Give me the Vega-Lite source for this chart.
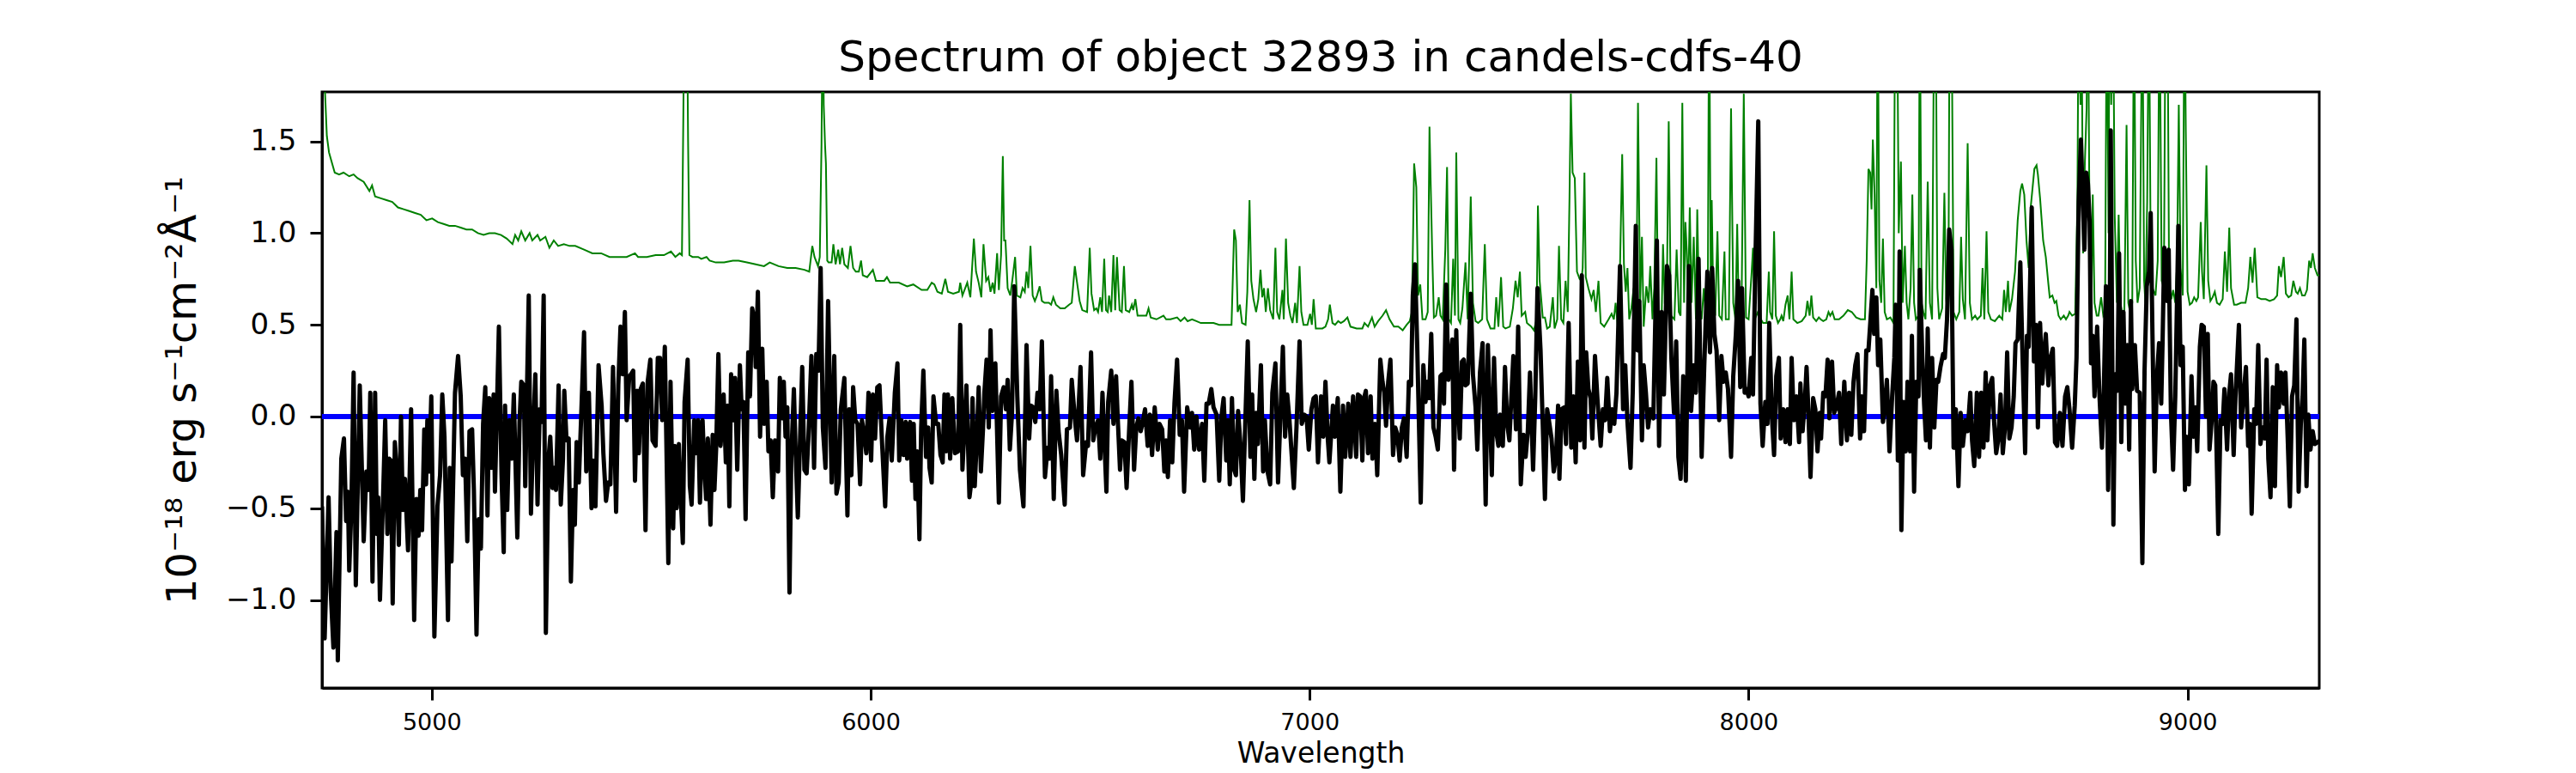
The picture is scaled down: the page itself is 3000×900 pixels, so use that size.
{
  "$schema": "https://vega.github.io/schema/vega-lite/v6.json",
  "width": 2326,
  "height": 694,
  "autosize": "none",
  "padding": {"left": 375, "top": 107, "right": 299, "bottom": 99},
  "background": "white",
  "config": {
    "font": "DejaVu Sans",
    "view": {"stroke": "black", "strokeWidth": 3},
    "axis": {
      "domainColor": "black", "domainWidth": 3,
      "tickColor": "black", "tickWidth": 3, "tickSize": 14,
      "labelColor": "black", "titleColor": "black",
      "labelFont": "DejaVu Sans", "titleFont": "DejaVu Sans",
      "titleFontWeight": "normal", "grid": false
    }
  },
  "title": {
    "text": "Spectrum of object 32893 in candels-cdfs-40",
    "fontSize": 50, "fontWeight": "normal", "color": "black",
    "font": "DejaVu Sans", "offset": 24, "dy": 50, "baseline": "alphabetic"
  },
  "datasets": {
    "flux": [
{"w":4750,"f":-0.49},{"w":4756,"f":-1.21},{"w":4765,"f":-0.44},{"w":4770,"f":-0.96},{"w":4776,"f":-1.26},{"w":4783,"f":-0.63},{"w":4786,"f":-1.33},{"w":4794,"f":-0.23},{"w":4800,"f":-0.12},{"w":4805,"f":-0.57},
{"w":4809,"f":-0.41},{"w":4812,"f":-0.84},{"w":4817,"f":-0.49},{"w":4822,"f":0.24},{"w":4827,"f":-0.92},{"w":4836,"f":0.17},{"w":4845,"f":-0.68},{"w":4851,"f":-0.30},{"w":4856,"f":-0.40},{"w":4860,"f":0.13},
{"w":4865,"f":-0.90},{"w":4871,"f":0.13},{"w":4875,"f":-0.64},{"w":4878,"f":-0.44},{"w":4882,"f":-1.00},{"w":4889,"f":-0.45},{"w":4894,"f":-0.02},{"w":4899,"f":-0.64},{"w":4903,"f":-0.23},{"w":4907,"f":-0.24},
{"w":4911,"f":-1.02},{"w":4916,"f":-0.14},{"w":4921,"f":-0.32},{"w":4925,"f":-0.70},{"w":4930,"f":0.0},{"w":4934,"f":-0.51},{"w":4939,"f":-0.34},{"w":4946,"f":-0.73},{"w":4953,"f":0.04},{"w":4960,"f":-1.11},
{"w":4965,"f":-0.45},{"w":4970,"f":-0.65},{"w":4974,"f":-0.40},{"w":4978,"f":-0.62},{"w":4983,"f":-0.07},{"w":4987,"f":-0.37},{"w":4990,"f":-0.02},{"w":4994,"f":-0.30},{"w":4999,"f":0.11},{"w":5006,"f":-1.20},
{"w":5013,"f":-0.49},{"w":5019,"f":-0.32},{"w":5024,"f":0.12},{"w":5029,"f":-0.11},{"w":5037,"f":-1.11},{"w":5041,"f":-0.28},{"w":5045,"f":-0.79},{"w":5053,"f":0.13},{"w":5060,"f":0.33},{"w":5066,"f":0.11},
{"w":5071,"f":-0.32},{"w":5076,"f":-0.23},{"w":5081,"f":-0.68},{"w":5086,"f":-0.08},{"w":5092,"f":-0.07},{"w":5096,"f":-0.40},{"w":5102,"f":-1.19},{"w":5107,"f":-0.56},{"w":5112,"f":-0.72},{"w":5117,"f":-0.04},
{"w":5122,"f":0.16},{"w":5127,"f":-0.54},{"w":5131,"f":0.10},{"w":5136,"f":-0.28},{"w":5141,"f":0.12},{"w":5144,"f":-0.41},{"w":5153,"f":0.49},{"w":5159,"f":-0.32},{"w":5164,"f":-0.74},{"w":5167,"f":0.06},
{"w":5172,"f":-0.51},{"w":5177,"f":-0.02},{"w":5182,"f":-0.23},{"w":5187,"f":0.12},{"w":5195,"f":-0.66},{"w":5200,"f":-0.03},{"w":5204,"f":0.19},{"w":5210,"f":0.17},{"w":5213,"f":-0.38},{"w":5221,"f":0.66},
{"w":5226,"f":-0.53},{"w":5231,"f":-0.10},{"w":5236,"f":0.23},{"w":5241,"f":-0.48},{"w":5246,"f":0.04},{"w":5250,"f":-0.03},{"w":5255,"f":0.66},{"w":5260,"f":-1.18},{"w":5266,"f":-0.23},{"w":5270,"f":-0.11},
{"w":5275,"f":-0.39},{"w":5279,"f":-0.28},{"w":5283,"f":-0.40},{"w":5289,"f":0.17},{"w":5294,"f":-0.48},{"w":5299,"f":-0.23},{"w":5302,"f":0.14},{"w":5307,"f":-0.13},{"w":5312,"f":-0.12},{"w":5317,"f":-0.90},
{"w":5322,"f":-0.40},{"w":5326,"f":-0.59},{"w":5330,"f":-0.14},{"w":5335,"f":-0.36},{"w":5340,"f":-0.03},{"w":5347,"f":0.46},{"w":5352,"f":-0.30},{"w":5358,"f":0.13},{"w":5364,"f":-0.50},{"w":5368,"f":-0.24},
{"w":5373,"f":-0.49},{"w":5380,"f":0.28},{"w":5387,"f":0.06},{"w":5391,"f":-0.20},{"w":5397,"f":-0.46},{"w":5402,"f":-0.36},{"w":5407,"f":-0.37},{"w":5413,"f":0.27},{"w":5420,"f":-0.52},{"w":5425,"f":0.17},
{"w":5430,"f":0.49},{"w":5435,"f":0.23},{"w":5440,"f":0.57},{"w":5444,"f":-0.02},{"w":5450,"f":0.22},{"w":5454,"f":0.23},{"w":5459,"f":0.25},{"w":5463,"f":-0.35},{"w":5468,"f":0.14},{"w":5472,"f":-0.20},
{"w":5476,"f":0.15},{"w":5481,"f":0.18},{"w":5487,"f":-0.62},{"w":5492,"f":0.19},{"w":5498,"f":0.31},{"w":5503,"f":-0.13},{"w":5510,"f":-0.16},{"w":5515,"f":0.32},{"w":5520,"f":0.32},{"w":5525,"f":-0.02},
{"w":5531,"f":0.38},{"w":5539,"f":-0.80},{"w":5544,"f":0.19},{"w":5550,"f":-0.61},{"w":5554,"f":-0.16},{"w":5558,"f":-0.50},{"w":5563,"f":-0.15},{"w":5567,"f":-0.42},{"w":5572,"f":-0.69},{"w":5576,"f":0.08},
{"w":5583,"f":0.31},{"w":5588,"f":-0.38},{"w":5592,"f":-0.48},{"w":5598,"f":-0.02},{"w":5602,"f":-0.20},{"w":5607,"f":-0.02},{"w":5611,"f":-0.47},{"w":5617,"f":-0.02},{"w":5620,"f":-0.22},{"w":5625,"f":-0.45},
{"w":5629,"f":-0.12},{"w":5635,"f":-0.59},{"w":5640,"f":-0.10},{"w":5644,"f":-0.40},{"w":5648,"f":-0.17},{"w":5653,"f":0.34},{"w":5658,"f":-0.16},{"w":5665,"f":0.12},{"w":5670,"f":-0.25},{"w":5674,"f":0.06},
{"w":5678,"f":-0.49},{"w":5682,"f":0.23},{"w":5687,"f":-0.02},{"w":5691,"f":0.21},{"w":5696,"f":-0.29},{"w":5702,"f":0.28},{"w":5706,"f":0.04},{"w":5710,"f":0.08},{"w":5715,"f":-0.56},{"w":5721,"f":0.35},
{"w":5725,"f":0.11},{"w":5730,"f":0.59},{"w":5735,"f":0.53},{"w":5738,"f":0.27},{"w":5743,"f":0.68},{"w":5748,"f":-0.11},{"w":5753,"f":0.37},{"w":5757,"f":-0.04},{"w":5763,"f":0.19},{"w":5767,"f":-0.19},
{"w":5772,"f":-0.13},{"w":5777,"f":-0.44},{"w":5782,"f":-0.13},{"w":5789,"f":-0.30},{"w":5793,"f":0.21},{"w":5798,"f":-0.01},{"w":5802,"f":0.19},{"w":5806,"f":-0.11},{"w":5810,"f":0.05},{"w":5815,"f":-0.96},
{"w":5819,"f":-0.23},{"w":5825,"f":0.15},{"w":5829,"f":-0.19},{"w":5834,"f":-0.55},{"w":5839,"f":-0.13},{"w":5844,"f":0.27},{"w":5849,"f":-0.29},{"w":5854,"f":-0.31},{"w":5858,"f":-0.12},{"w":5865,"f":0.33},
{"w":5871,"f":-0.28},{"w":5876,"f":0.34},{"w":5881,"f":0.25},{"w":5886,"f":0.81},{"w":5891,"f":-0.06},{"w":5897,"f":-0.28},{"w":5903,"f":0.63},{"w":5911,"f":-0.36},{"w":5917,"f":0.33},{"w":5922,"f":-0.42},
{"w":5927,"f":-0.36},{"w":5932,"f":0.04},{"w":5940,"f":0.21},{"w":5947,"f":-0.54},{"w":5951,"f":0.04},{"w":5956,"f":-0.32},{"w":5960,"f":0.16},{"w":5965,"f":-0.02},{"w":5970,"f":-0.04},{"w":5976,"f":-0.37},
{"w":5980,"f":-0.02},{"w":5986,"f":-0.11},{"w":5990,"f":-0.20},{"w":5995,"f":0.13},{"w":6001,"f":-0.24},{"w":6005,"f":0.12},{"w":6010,"f":-0.12},{"w":6015,"f":0.16},{"w":6020,"f":0.17},{"w":6026,"f":-0.15},
{"w":6033,"f":-0.49},{"w":6038,"f":-0.11},{"w":6043,"f":-0.01},{"w":6048,"f":-0.24},{"w":6055,"f":0.13},{"w":6061,"f":0.29},{"w":6065,"f":-0.24},{"w":6070,"f":-0.02},{"w":6075,"f":-0.21},{"w":6080,"f":-0.03},
{"w":6083,"f":-0.23},{"w":6090,"f":-0.03},{"w":6094,"f":-0.35},{"w":6098,"f":-0.04},{"w":6102,"f":-0.45},{"w":6106,"f":-0.19},{"w":6111,"f":-0.67},{"w":6115,"f":-0.06},{"w":6120,"f":0.25},{"w":6126,"f":-0.22},
{"w":6131,"f":-0.06},{"w":6134,"f":-0.28},{"w":6139,"f":-0.36},{"w":6143,"f":0.11},{"w":6149,"f":-0.04},{"w":6154,"f":-0.04},{"w":6159,"f":-0.21},{"w":6164,"f":-0.25},{"w":6168,"f":0.12},{"w":6172,"f":-0.19},
{"w":6176,"f":0.12},{"w":6181,"f":-0.23},{"w":6186,"f":0.10},{"w":6192,"f":-0.20},{"w":6199,"f":-0.19},{"w":6204,"f":0.50},{"w":6209,"f":-0.29},{"w":6214,"f":-0.04},{"w":6218,"f":0.17},{"w":6225,"f":-0.44},
{"w":6228,"f":-0.38},{"w":6232,"f":0.10},{"w":6237,"f":-0.38},{"w":6242,"f":-0.11},{"w":6246,"f":0.16},{"w":6251,"f":-0.30},{"w":6256,"f":-0.06},{"w":6259,"f":0.13},{"w":6264,"f":0.31},{"w":6269,"f":-0.06},
{"w":6273,"f":0.47},{"w":6277,"f":0.03},{"w":6284,"f":0.29},{"w":6292,"f":-0.47},{"w":6297,"f":0.11},{"w":6303,"f":0.16},{"w":6308,"f":0.04},{"w":6312,"f":0.20},{"w":6317,"f":-0.18},{"w":6322,"f":0.02},
{"w":6327,"f":0.71},{"w":6334,"f":0.11},{"w":6340,"f":-0.29},{"w":6348,"f":-0.49},{"w":6355,"f":0.39},{"w":6361,"f":-0.12},{"w":6365,"f":0.06},{"w":6370,"f":0.05},{"w":6375,"f":-0.03},{"w":6380,"f":0.13},
{"w":6385,"f":0.04},{"w":6390,"f":0.41},{"w":6397,"f":-0.33},{"w":6403,"f":-0.17},{"w":6407,"f":-0.23},{"w":6411,"f":0.22},{"w":6417,"f":-0.45},{"w":6423,"f":0.14},{"w":6428,"f":-0.08},{"w":6434,"f":-0.21},
{"w":6442,"f":-0.48},{"w":6447,"f":-0.07},{"w":6454,"f":-0.06},{"w":6458,"f":0.20},{"w":6465,"f":-0.01},{"w":6470,"f":-0.13},{"w":6478,"f":0.27},{"w":6484,"f":-0.32},{"w":6491,"f":-0.14},{"w":6495,"f":-0.16},
{"w":6502,"f":0.35},{"w":6507,"f":-0.13},{"w":6512,"f":-0.06},{"w":6518,"f":-0.02},{"w":6523,"f":-0.23},{"w":6528,"f":0.13},{"w":6537,"f":-0.41},{"w":6541,"f":0.08},{"w":6548,"f":0.25},{"w":6553,"f":-0.04},
{"w":6559,"f":0.22},{"w":6563,"f":-0.02},{"w":6568,"f":-0.29},{"w":6572,"f":-0.13},{"w":6578,"f":-0.14},{"w":6583,"f":-0.39},{"w":6589,"f":-0.06},{"w":6594,"f":0.19},{"w":6600,"f":-0.29},{"w":6605,"f":-0.06},
{"w":6610,"f":-0.01},{"w":6615,"f":-0.08},{"w":6619,"f":-0.04},{"w":6625,"f":0.04},{"w":6631,"f":-0.16},{"w":6636,"f":0.01},{"w":6641,"f":-0.21},{"w":6647,"f":0.05},{"w":6654,"f":-0.18},{"w":6658,"f":-0.04},
{"w":6664,"f":-0.07},{"w":6669,"f":-0.30},{"w":6673,"f":-0.13},{"w":6677,"f":-0.33},{"w":6682,"f":-0.02},{"w":6687,"f":-0.25},{"w":6692,"f":0.07},{"w":6698,"f":0.31},{"w":6704,"f":-0.10},{"w":6709,"f":-0.02},
{"w":6714,"f":-0.41},{"w":6721,"f":0.05},{"w":6728,"f":-0.06},{"w":6732,"f":0.02},{"w":6737,"f":-0.18},{"w":6742,"f":0.0},{"w":6748,"f":-0.18},{"w":6755,"f":-0.04},{"w":6760,"f":-0.35},{"w":6765,"f":0.07},
{"w":6770,"f":0.07},{"w":6776,"f":0.15},{"w":6781,"f":0.05},{"w":6788,"f":0.01},{"w":6794,"f":-0.35},{"w":6799,"f":0.0},{"w":6804,"f":0.10},{"w":6810,"f":-0.24},{"w":6814,"f":-0.02},{"w":6818,"f":-0.37},
{"w":6823,"f":0.10},{"w":6828,"f":-0.29},{"w":6832,"f":-0.32},{"w":6837,"f":0.03},{"w":6842,"f":-0.14},{"w":6848,"f":-0.46},{"w":6853,"f":-0.06},{"w":6859,"f":0.41},{"w":6865,"f":-0.22},{"w":6869,"f":0.12},
{"w":6874,"f":-0.34},{"w":6878,"f":0.02},{"w":6882,"f":-0.15},{"w":6889,"f":0.28},{"w":6894,"f":-0.30},{"w":6898,"f":-0.02},{"w":6904,"f":-0.30},{"w":6910,"f":-0.37},{"w":6915,"f":0.13},{"w":6922,"f":0.29},
{"w":6928,"f":-0.36},{"w":6933,"f":-0.02},{"w":6939,"f":0.38},{"w":6944,"f":-0.11},{"w":6949,"f":0.12},{"w":6954,"f":-0.02},{"w":6958,"f":-0.17},{"w":6964,"f":-0.39},{"w":6970,"f":-0.06},{"w":6977,"f":0.41},
{"w":6982,"f":-0.04},{"w":6988,"f":0.01},{"w":6993,"f":0.0},{"w":6998,"f":-0.18},{"w":7004,"f":0.04},{"w":7009,"f":0.10},{"w":7014,"f":0.11},{"w":7019,"f":-0.25},{"w":7026,"f":0.11},{"w":7031,"f":-0.11},
{"w":7036,"f":0.19},{"w":7041,"f":-0.11},{"w":7045,"f":-0.25},{"w":7053,"f":0.06},{"w":7057,"f":-0.11},{"w":7064,"f":0.10},{"w":7070,"f":-0.41},{"w":7076,"f":0.06},{"w":7081,"f":-0.22},{"w":7088,"f":0.07},
{"w":7093,"f":-0.22},{"w":7099,"f":0.11},{"w":7106,"f":-0.22},{"w":7110,"f":0.12},{"w":7115,"f":0.11},{"w":7120,"f":-0.24},{"w":7124,"f":0.10},{"w":7128,"f":0.14},{"w":7133,"f":-0.20},{"w":7139,"f":0.11},
{"w":7143,"f":-0.23},{"w":7149,"f":-0.04},{"w":7154,"f":-0.32},{"w":7161,"f":0.31},{"w":7166,"f":0.19},{"w":7170,"f":0.13},{"w":7174,"f":-0.05},{"w":7179,"f":0.19},{"w":7184,"f":0.31},{"w":7190,"f":-0.21},
{"w":7195,"f":-0.06},{"w":7200,"f":-0.10},{"w":7205,"f":-0.24},{"w":7210,"f":-0.06},{"w":7215,"f":-0.01},{"w":7221,"f":-0.22},{"w":7226,"f":0.19},{"w":7231,"f":0.17},{"w":7235,"f":0.66},{"w":7240,"f":0.83},
{"w":7245,"f":0.39},{"w":7253,"f":-0.47},{"w":7259,"f":0.28},{"w":7264,"f":0.08},{"w":7268,"f":0.19},{"w":7272,"f":0.10},{"w":7277,"f":0.45},{"w":7282,"f":-0.06},{"w":7287,"f":-0.11},{"w":7292,"f":-0.18},
{"w":7298,"f":0.22},{"w":7302,"f":0.23},{"w":7306,"f":0.07},{"w":7311,"f":0.72},{"w":7316,"f":0.20},{"w":7321,"f":0.32},{"w":7325,"f":0.42},{"w":7329,"f":-0.29},{"w":7334,"f":0.47},{"w":7338,"f":0.08},
{"w":7342,"f":-0.12},{"w":7347,"f":0.30},{"w":7351,"f":0.31},{"w":7355,"f":0.17},{"w":7360,"f":0.18},{"w":7367,"f":0.67},{"w":7372,"f":0.23},{"w":7378,"f":0.05},{"w":7382,"f":-0.18},{"w":7388,"f":0.24},
{"w":7394,"f":0.40},{"w":7401,"f":-0.48},{"w":7406,"f":0.39},{"w":7410,"f":0.07},{"w":7415,"f":-0.32},{"w":7420,"f":0.32},{"w":7425,"f":-0.08},{"w":7430,"f":-0.16},{"w":7434,"f":0.01},{"w":7440,"f":-0.16},
{"w":7445,"f":0.27},{"w":7450,"f":-0.04},{"w":7455,"f":-0.13},{"w":7459,"f":0.08},{"w":7464,"f":0.33},{"w":7470,"f":-0.07},{"w":7475,"f":0.49},{"w":7481,"f":-0.37},{"w":7487,"f":-0.10},{"w":7492,"f":-0.22},
{"w":7497,"f":-0.08},{"w":7502,"f":0.24},{"w":7509,"f":-0.29},{"w":7514,"f":0.11},{"w":7519,"f":0.70},{"w":7526,"f":0.36},{"w":7531,"f":-0.04},{"w":7536,"f":-0.45},{"w":7541,"f":0.04},{"w":7545,"f":-0.02},
{"w":7551,"f":-0.12},{"w":7556,"f":-0.30},{"w":7561,"f":-0.23},{"w":7566,"f":0.06},{"w":7569,"f":-0.34},{"w":7574,"f":0.04},{"w":7580,"f":0.05},{"w":7584,"f":-0.15},{"w":7590,"f":0.51},{"w":7596,"f":-0.17},
{"w":7601,"f":0.11},{"w":7606,"f":-0.25},{"w":7611,"f":0.30},{"w":7616,"f":-0.13},{"w":7620,"f":0.77},{"w":7626,"f":-0.17},{"w":7630,"f":0.35},{"w":7635,"f":0.15},{"w":7640,"f":0.10},{"w":7644,"f":-0.12},
{"w":7650,"f":0.33},{"w":7656,"f":0.08},{"w":7663,"f":-0.16},{"w":7668,"f":0.04},{"w":7673,"f":-0.02},{"w":7678,"f":0.21},{"w":7684,"f":-0.08},{"w":7689,"f":0.04},{"w":7694,"f":-0.04},{"w":7699,"f":0.13},
{"w":7707,"f":0.82},{"w":7714,"f":0.04},{"w":7719,"f":0.28},{"w":7724,"f":-0.03},{"w":7731,"f":-0.28},{"w":7736,"f":0.13},{"w":7743,"f":1.04},{"w":7747,"f":0.36},{"w":7751,"f":0.63},{"w":7757,"f":-0.13},
{"w":7761,"f":0.28},{"w":7766,"f":0.13},{"w":7771,"f":-0.06},{"w":7776,"f":0.04},{"w":7783,"f":-0.01},{"w":7791,"f":0.96},{"w":7796,"f":-0.16},{"w":7802,"f":0.57},{"w":7807,"f":0.12},{"w":7814,"f":0.82},
{"w":7819,"f":0.77},{"w":7824,"f":0.32},{"w":7830,"f":0.02},{"w":7835,"f":0.41},{"w":7840,"f":-0.22},{"w":7845,"f":-0.34},{"w":7851,"f":0.22},{"w":7857,"f":-0.35},{"w":7864,"f":0.82},{"w":7869,"f":0.03},
{"w":7875,"f":0.28},{"w":7880,"f":0.13},{"w":7886,"f":0.86},{"w":7893,"f":-0.22},{"w":7899,"f":0.28},{"w":7906,"f":0.79},{"w":7912,"f":0.35},{"w":7917,"f":0.81},{"w":7922,"f":0.45},{"w":7927,"f":0.36},
{"w":7933,"f":-0.02},{"w":7938,"f":0.33},{"w":7943,"f":0.19},{"w":7948,"f":0.24},{"w":7953,"f":0.15},{"w":7960,"f":-0.22},{"w":7965,"f":0.22},{"w":7971,"f":0.45},{"w":7976,"f":0.74},{"w":7981,"f":0.16},
{"w":7985,"f":0.70},{"w":7991,"f":0.13},{"w":7995,"f":0.15},{"w":8000,"f":0.11},{"w":8006,"f":0.32},{"w":8010,"f":0.12},{"w":8016,"f":0.91},{"w":8022,"f":1.61},{"w":8027,"f":0.07},{"w":8032,"f":-0.16},
{"w":8038,"f":0.08},{"w":8043,"f":-0.04},{"w":8047,"f":0.51},{"w":8053,"f":0.0},{"w":8058,"f":-0.21},{"w":8063,"f":0.22},{"w":8069,"f":0.32},{"w":8073,"f":-0.12},{"w":8079,"f":0.04},{"w":8084,"f":-0.14},
{"w":8089,"f":0.04},{"w":8094,"f":-0.15},{"w":8098,"f":0.32},{"w":8103,"f":-0.02},{"w":8109,"f":0.11},{"w":8115,"f":-0.14},{"w":8118,"f":0.18},{"w":8123,"f":-0.08},{"w":8128,"f":0.08},{"w":8132,"f":0.27},
{"w":8136,"f":0.04},{"w":8141,"f":-0.33},{"w":8147,"f":0.10},{"w":8152,"f":0.04},{"w":8157,"f":-0.19},{"w":8162,"f":0.02},{"w":8165,"f":-0.12},{"w":8170,"f":0.13},{"w":8175,"f":0.11},{"w":8180,"f":0.31},
{"w":8184,"f":-0.01},{"w":8190,"f":0.30},{"w":8195,"f":0.02},{"w":8200,"f":0.05},{"w":8206,"f":0.13},{"w":8211,"f":-0.15},{"w":8218,"f":0.19},{"w":8224,"f":-0.13},{"w":8229,"f":0.13},{"w":8234,"f":-0.10},
{"w":8239,"f":0.19},{"w":8243,"f":0.28},{"w":8248,"f":0.34},{"w":8254,"f":-0.12},{"w":8258,"f":0.11},{"w":8263,"f":-0.08},{"w":8268,"f":0.36},{"w":8273,"f":0.36},{"w":8278,"f":0.54},{"w":8282,"f":0.69},
{"w":8286,"f":0.45},{"w":8291,"f":0.65},{"w":8295,"f":0.28},{"w":8300,"f":0.42},{"w":8306,"f":-0.03},{"w":8310,"f":0.05},{"w":8315,"f":0.20},{"w":8321,"f":-0.19},{"w":8327,"f":0.11},{"w":8332,"f":0.32},
{"w":8335,"f":0.61},{"w":8340,"f":-0.24},{"w":8344,"f":0.90},{"w":8348,"f":-0.62},{"w":8353,"f":0.08},{"w":8358,"f":-0.19},{"w":8362,"f":0.19},{"w":8368,"f":-0.19},{"w":8372,"f":0.44},{"w":8377,"f":-0.41},
{"w":8382,"f":0.19},{"w":8387,"f":0.11},{"w":8390,"f":0.80},{"w":8396,"f":0.30},{"w":8400,"f":0.06},{"w":8404,"f":-0.13},{"w":8408,"f":0.48},{"w":8413,"f":-0.17},{"w":8418,"f":0.32},{"w":8423,"f":-0.06},
{"w":8428,"f":0.20},{"w":8432,"f":0.19},{"w":8437,"f":0.27},{"w":8443,"f":0.34},{"w":8447,"f":0.32},{"w":8452,"f":0.53},{"w":8457,"f":1.02},{"w":8462,"f":0.91},{"w":8467,"f":-0.17},{"w":8472,"f":0.04},
{"w":8478,"f":-0.38},{"w":8483,"f":0.02},{"w":8488,"f":-0.16},{"w":8494,"f":-0.02},{"w":8499,"f":-0.08},{"w":8505,"f":0.13},{"w":8509,"f":-0.13},{"w":8514,"f":-0.27},{"w":8520,"f":0.13},{"w":8525,"f":-0.22},
{"w":8530,"f":0.13},{"w":8535,"f":-0.17},{"w":8540,"f":0.24},{"w":8544,"f":-0.13},{"w":8550,"f":0.17},{"w":8555,"f":0.21},{"w":8559,"f":-0.02},{"w":8564,"f":-0.20},{"w":8569,"f":-0.12},{"w":8574,"f":0.12},
{"w":8579,"f":-0.20},{"w":8584,"f":-0.06},{"w":8589,"f":0.35},{"w":8594,"f":-0.12},{"w":8599,"f":-0.06},{"w":8604,"f":0.11},{"w":8608,"f":0.40},{"w":8613,"f":0.42},{"w":8619,"f":0.84},{"w":8623,"f":0.42},
{"w":8630,"f":-0.20},{"w":8634,"f":0.44},{"w":8638,"f":0.38},{"w":8645,"f":1.14},{"w":8650,"f":0.30},{"w":8655,"f":0.50},{"w":8659,"f":-0.06},{"w":8664,"f":0.51},{"w":8669,"f":0.18},{"w":8673,"f":0.34},
{"w":8677,"f":0.45},{"w":8683,"f":0.17},{"w":8687,"f":0.31},{"w":8693,"f":0.37},{"w":8698,"f":-0.14},{"w":8703,"f":-0.16},{"w":8709,"f":0.02},{"w":8715,"f":-0.16},{"w":8721,"f":0.11},{"w":8726,"f":0.16},
{"w":8731,"f":0.04},{"w":8737,"f":-0.17},{"w":8743,"f":0.06},{"w":8747,"f":0.32},{"w":8752,"f":1.17},{"w":8757,"f":1.51},{"w":8761,"f":1.21},{"w":8765,"f":0.91},{"w":8769,"f":1.33},{"w":8773,"f":1.27},
{"w":8777,"f":1.06},{"w":8780,"f":0.29},{"w":8784,"f":0.44},{"w":8788,"f":0.11},{"w":8794,"f":0.49},{"w":8799,"f":0.13},{"w":8805,"f":-0.17},{"w":8809,"f":0.11},{"w":8814,"f":0.71},{"w":8819,"f":-0.40},
{"w":8822,"f":0.15},{"w":8825,"f":1.56},{"w":8831,"f":-0.59},{"w":8835,"f":0.23},{"w":8840,"f":0.14},{"w":8844,"f":0.89},{"w":8849,"f":-0.14},{"w":8854,"f":0.57},{"w":8858,"f":0.07},{"w":8863,"f":0.39},
{"w":8867,"f":-0.18},{"w":8871,"f":0.63},{"w":8874,"f":0.15},{"w":8880,"f":0.39},{"w":8885,"f":0.14},{"w":8891,"f":0.13},{"w":8897,"f":-0.80},{"w":8902,"f":0.25},{"w":8907,"f":0.71},{"w":8912,"f":0.79},
{"w":8916,"f":1.11},{"w":8920,"f":0.45},{"w":8925,"f":-0.30},{"w":8930,"f":0.21},{"w":8935,"f":0.40},{"w":8940,"f":0.07},{"w":8943,"f":0.40},{"w":8947,"f":0.92},{"w":8953,"f":0.63},{"w":8957,"f":0.91},
{"w":8962,"f":0.03},{"w":8967,"f":-0.29},{"w":8972,"f":0.11},{"w":8979,"f":1.04},{"w":8984,"f":0.28},{"w":8989,"f":0.38},{"w":8994,"f":-0.40},{"w":8998,"f":-0.11},{"w":9003,"f":-0.37},{"w":9009,"f":0.22},
{"w":9013,"f":-0.11},{"w":9018,"f":0.05},{"w":9022,"f":-0.19},{"w":9028,"f":0.38},{"w":9032,"f":0.50},{"w":9037,"f":0.49},{"w":9042,"f":0.0},{"w":9046,"f":0.45},{"w":9050,"f":-0.18},{"w":9055,"f":-0.02},
{"w":9059,"f":0.19},{"w":9063,"f":0.17},{"w":9070,"f":-0.64},{"w":9075,"f":-0.02},{"w":9080,"f":-0.04},{"w":9084,"f":0.15},{"w":9090,"f":-0.18},{"w":9095,"f":0.13},{"w":9099,"f":0.23},{"w":9105,"f":-0.21},
{"w":9109,"f":0.10},{"w":9117,"f":0.50},{"w":9122,"f":-0.06},{"w":9127,"f":0.10},{"w":9133,"f":0.27},{"w":9138,"f":-0.16},{"w":9142,"f":-0.04},{"w":9146,"f":-0.53},{"w":9152,"f":0.04},{"w":9156,"f":-0.04},
{"w":9161,"f":0.39},{"w":9166,"f":-0.15},{"w":9171,"f":-0.06},{"w":9176,"f":-0.12},{"w":9180,"f":0.31},{"w":9184,"f":-0.23},{"w":9189,"f":-0.44},{"w":9194,"f":0.16},{"w":9199,"f":-0.38},{"w":9204,"f":0.28},
{"w":9208,"f":0.05},{"w":9213,"f":0.24},{"w":9219,"f":0.07},{"w":9223,"f":0.24},{"w":9228,"f":-0.11},{"w":9233,"f":-0.49},{"w":9238,"f":0.11},{"w":9243,"f":0.17},{"w":9248,"f":0.53},{"w":9253,"f":-0.41},
{"w":9258,"f":-0.04},{"w":9262,"f":0.11},{"w":9266,"f":0.42},{"w":9271,"f":-0.38},{"w":9275,"f":0.01},{"w":9280,"f":-0.18},{"w":9285,"f":-0.08},{"w":9290,"f":-0.15},{"w":9296,"f":-0.14},{"w":9302,"f":-0.13}
    ],
    "model": [
{"w":4750,"f":2.4},{"w":4753,"f":2.0},{"w":4757,"f":1.76},{"w":4761,"f":1.53},{"w":4766,"f":1.44},{"w":4773,"f":1.38},{"w":4779,"f":1.33},{"w":4789,"f":1.32},{"w":4799,"f":1.33},{"w":4812,"f":1.31},
{"w":4822,"f":1.32},{"w":4831,"f":1.30},{"w":4845,"f":1.28},{"w":4858,"f":1.23},{"w":4864,"f":1.26},{"w":4871,"f":1.20},{"w":4884,"f":1.19},{"w":4897,"f":1.18},{"w":4910,"f":1.17},{"w":4923,"f":1.14},
{"w":4936,"f":1.13},{"w":4949,"f":1.12},{"w":4962,"f":1.11},{"w":4975,"f":1.10},{"w":4988,"f":1.07},{"w":5001,"f":1.08},{"w":5014,"f":1.06},{"w":5027,"f":1.05},{"w":5040,"f":1.04},{"w":5053,"f":1.04},
{"w":5066,"f":1.03},{"w":5079,"f":1.02},{"w":5092,"f":1.02},{"w":5105,"f":1.00},{"w":5118,"f":0.99},{"w":5131,"f":1.00},{"w":5144,"f":1.00},{"w":5158,"f":0.99},{"w":5171,"f":0.97},{"w":5184,"f":0.94},
{"w":5190,"f":0.99},{"w":5197,"f":0.96},{"w":5204,"f":1.01},{"w":5213,"f":0.96},{"w":5223,"f":1.00},{"w":5229,"f":0.96},{"w":5241,"f":0.99},{"w":5247,"f":0.96},{"w":5259,"f":0.98},{"w":5268,"f":0.92},
{"w":5278,"f":0.96},{"w":5288,"f":0.93},{"w":5301,"f":0.94},{"w":5314,"f":0.93},{"w":5327,"f":0.93},{"w":5347,"f":0.91},{"w":5366,"f":0.89},{"w":5386,"f":0.89},{"w":5405,"f":0.87},{"w":5425,"f":0.87},
{"w":5444,"f":0.87},{"w":5463,"f":0.89},{"w":5470,"f":0.87},{"w":5490,"f":0.87},{"w":5510,"f":0.88},{"w":5529,"f":0.88},{"w":5545,"f":0.90},{"w":5555,"f":0.87},{"w":5565,"f":0.89},{"w":5570,"f":0.88},
{"w":5573,"f":1.6},{"w":5576,"f":2.4},{"w":5581,"f":2.4},{"w":5584,"f":1.5},{"w":5587,"f":0.88},{"w":5594,"f":0.87},{"w":5607,"f":0.87},{"w":5614,"f":0.86},{"w":5626,"f":0.87},{"w":5633,"f":0.85},
{"w":5647,"f":0.84},{"w":5666,"f":0.84},{"w":5686,"f":0.85},{"w":5699,"f":0.85},{"w":5718,"f":0.84},{"w":5738,"f":0.83},{"w":5757,"f":0.82},{"w":5770,"f":0.84},{"w":5790,"f":0.82},{"w":5810,"f":0.81},
{"w":5829,"f":0.81},{"w":5849,"f":0.80},{"w":5860,"f":0.79},{"w":5867,"f":0.93},{"w":5872,"f":0.87},{"w":5880,"f":0.82},{"w":5884,"f":0.87},{"w":5888,"f":1.49},{"w":5891,"f":2.4},{"w":5893,"f":1.70},
{"w":5896,"f":1.48},{"w":5898,"f":1.38},{"w":5901,"f":0.85},{"w":5904,"f":0.84},{"w":5911,"f":0.84},{"w":5915,"f":0.94},{"w":5920,"f":0.83},{"w":5926,"f":0.91},{"w":5930,"f":0.83},{"w":5935,"f":0.92},
{"w":5940,"f":0.83},{"w":5948,"f":0.81},{"w":5954,"f":0.93},{"w":5960,"f":0.81},{"w":5966,"f":0.79},{"w":5973,"f":0.79},{"w":5978,"f":0.85},{"w":5982,"f":0.77},{"w":5992,"f":0.76},{"w":6005,"f":0.80},
{"w":6012,"f":0.74},{"w":6031,"f":0.74},{"w":6037,"f":0.76},{"w":6044,"f":0.73},{"w":6064,"f":0.73},{"w":6083,"f":0.71},{"w":6097,"f":0.72},{"w":6116,"f":0.69},{"w":6129,"f":0.69},{"w":6139,"f":0.73},
{"w":6145,"f":0.72},{"w":6152,"f":0.68},{"w":6162,"f":0.67},{"w":6170,"f":0.75},{"w":6176,"f":0.68},{"w":6188,"f":0.67},{"w":6201,"f":0.68},{"w":6204,"f":0.73},{"w":6209,"f":0.66},{"w":6220,"f":0.73},
{"w":6227,"f":0.65},{"w":6235,"f":0.97},{"w":6240,"f":0.79},{"w":6246,"f":0.73},{"w":6252,"f":0.65},{"w":6257,"f":0.94},{"w":6263,"f":0.74},{"w":6268,"f":0.76},{"w":6273,"f":0.68},{"w":6278,"f":0.73},
{"w":6282,"f":0.67},{"w":6288,"f":0.89},{"w":6292,"f":0.69},{"w":6297,"f":0.88},{"w":6301,"f":1.42},{"w":6304,"f":0.96},{"w":6307,"f":0.96},{"w":6312,"f":0.70},{"w":6318,"f":0.66},{"w":6323,"f":0.75},
{"w":6329,"f":0.87},{"w":6333,"f":0.66},{"w":6341,"f":0.65},{"w":6346,"f":0.70},{"w":6351,"f":0.68},{"w":6355,"f":0.79},{"w":6359,"f":0.70},{"w":6364,"f":0.93},{"w":6369,"f":0.66},{"w":6374,"f":0.63},
{"w":6379,"f":0.66},{"w":6385,"f":0.71},{"w":6390,"f":0.63},{"w":6396,"f":0.62},{"w":6406,"f":0.62},{"w":6411,"f":0.61},{"w":6416,"f":0.65},{"w":6422,"f":0.61},{"w":6432,"f":0.59},{"w":6442,"f":0.59},
{"w":6452,"f":0.61},{"w":6458,"f":0.62},{"w":6465,"f":0.82},{"w":6469,"f":0.75},{"w":6476,"f":0.63},{"w":6482,"f":0.58},{"w":6493,"f":0.57},{"w":6499,"f":0.92},{"w":6503,"f":0.67},{"w":6509,"f":0.58},
{"w":6514,"f":0.59},{"w":6518,"f":0.57},{"w":6523,"f":0.65},{"w":6527,"f":0.57},{"w":6532,"f":0.86},{"w":6536,"f":0.58},{"w":6540,"f":0.57},{"w":6543,"f":0.66},{"w":6548,"f":0.57},{"w":6553,"f":0.88},
{"w":6557,"f":0.58},{"w":6561,"f":0.87},{"w":6567,"f":0.58},{"w":6572,"f":0.57},{"w":6577,"f":0.82},{"w":6581,"f":0.58},{"w":6589,"f":0.57},{"w":6595,"f":0.61},{"w":6598,"f":0.58},{"w":6603,"f":0.64},
{"w":6608,"f":0.55},{"w":6618,"f":0.55},{"w":6628,"f":0.55},{"w":6633,"f":0.59},{"w":6638,"f":0.54},{"w":6651,"f":0.53},{"w":6667,"f":0.55},{"w":6673,"f":0.53},{"w":6683,"f":0.53},{"w":6698,"f":0.54},
{"w":6706,"f":0.52},{"w":6715,"f":0.54},{"w":6722,"f":0.52},{"w":6732,"f":0.53},{"w":6742,"f":0.52},{"w":6752,"f":0.51},{"w":6768,"f":0.51},{"w":6781,"f":0.51},{"w":6794,"f":0.50},{"w":6807,"f":0.50},
{"w":6822,"f":0.50},{"w":6828,"f":1.02},{"w":6832,"f":0.96},{"w":6836,"f":0.57},{"w":6841,"f":0.61},{"w":6846,"f":0.51},{"w":6854,"f":0.50},{"w":6858,"f":0.68},{"w":6863,"f":1.18},{"w":6867,"f":0.74},
{"w":6872,"f":0.64},{"w":6878,"f":0.57},{"w":6883,"f":0.64},{"w":6888,"f":0.80},{"w":6892,"f":0.65},{"w":6896,"f":0.70},{"w":6900,"f":0.57},{"w":6905,"f":0.70},{"w":6910,"f":0.58},{"w":6917,"f":0.53},
{"w":6922,"f":0.92},{"w":6926,"f":0.57},{"w":6931,"f":0.53},{"w":6938,"f":0.69},{"w":6941,"f":0.53},{"w":6946,"f":0.97},{"w":6951,"f":0.62},{"w":6956,"f":0.55},{"w":6961,"f":0.51},{"w":6967,"f":0.62},
{"w":6971,"f":0.51},{"w":6977,"f":0.82},{"w":6981,"f":0.57},{"w":6986,"f":0.50},{"w":6995,"f":0.50},{"w":7001,"f":0.56},{"w":7005,"f":0.50},{"w":7009,"f":0.64},{"w":7014,"f":0.48},{"w":7022,"f":0.48},
{"w":7029,"f":0.48},{"w":7036,"f":0.49},{"w":7042,"f":0.53},{"w":7046,"f":0.61},{"w":7052,"f":0.51},{"w":7058,"f":0.50},{"w":7065,"f":0.52},{"w":7071,"f":0.51},{"w":7078,"f":0.52},{"w":7086,"f":0.54},
{"w":7093,"f":0.49},{"w":7107,"f":0.48},{"w":7120,"f":0.48},{"w":7125,"f":0.51},{"w":7133,"f":0.49},{"w":7142,"f":0.54},{"w":7148,"f":0.49},{"w":7156,"f":0.52},{"w":7166,"f":0.55},{"w":7174,"f":0.58},
{"w":7182,"f":0.53},{"w":7192,"f":0.49},{"w":7202,"f":0.49},{"w":7212,"f":0.47},{"w":7221,"f":0.50},{"w":7228,"f":0.52},{"w":7233,"f":0.57},{"w":7238,"f":1.38},{"w":7243,"f":1.25},{"w":7247,"f":0.66},
{"w":7252,"f":0.72},{"w":7257,"f":0.53},{"w":7264,"f":0.53},{"w":7269,"f":0.57},{"w":7273,"f":1.58},{"w":7279,"f":0.91},{"w":7283,"f":0.54},{"w":7288,"f":0.55},{"w":7294,"f":0.65},{"w":7298,"f":0.55},
{"w":7303,"f":0.53},{"w":7309,"f":0.91},{"w":7313,"f":1.36},{"w":7317,"f":0.53},{"w":7322,"f":0.51},{"w":7327,"f":0.86},{"w":7331,"f":0.55},{"w":7334,"f":1.44},{"w":7339,"f":0.53},{"w":7343,"f":0.51},
{"w":7348,"f":0.59},{"w":7355,"f":0.84},{"w":7360,"f":0.53},{"w":7367,"f":1.20},{"w":7372,"f":0.62},{"w":7378,"f":0.52},{"w":7384,"f":0.51},{"w":7393,"f":0.53},{"w":7399,"f":0.94},{"w":7404,"f":0.53},
{"w":7412,"f":0.48},{"w":7421,"f":0.48},{"w":7425,"f":0.65},{"w":7430,"f":0.49},{"w":7436,"f":0.76},{"w":7441,"f":0.49},{"w":7446,"f":0.48},{"w":7456,"f":0.49},{"w":7463,"f":0.59},{"w":7469,"f":0.74},
{"w":7474,"f":0.65},{"w":7479,"f":0.79},{"w":7483,"f":0.55},{"w":7491,"f":0.57},{"w":7495,"f":0.51},{"w":7505,"f":0.49},{"w":7511,"f":0.47},{"w":7517,"f":0.53},{"w":7520,"f":1.15},{"w":7524,"f":0.74},
{"w":7531,"f":0.54},{"w":7536,"f":0.54},{"w":7541,"f":0.48},{"w":7547,"f":0.49},{"w":7554,"f":0.65},{"w":7558,"f":0.48},{"w":7564,"f":0.53},{"w":7568,"f":0.93},{"w":7573,"f":0.53},{"w":7578,"f":0.51},
{"w":7583,"f":0.74},{"w":7588,"f":0.57},{"w":7592,"f":1.2},{"w":7595,"f":1.76},{"w":7599,"f":1.33},{"w":7604,"f":1.30},{"w":7609,"f":0.79},{"w":7615,"f":0.75},{"w":7619,"f":0.74},{"w":7622,"f":0.81},
{"w":7626,"f":1.33},{"w":7629,"f":0.76},{"w":7635,"f":0.70},{"w":7642,"f":0.64},{"w":7647,"f":0.69},{"w":7652,"f":0.57},{"w":7658,"f":0.74},{"w":7663,"f":0.51},{"w":7671,"f":0.49},{"w":7681,"f":0.53},
{"w":7688,"f":0.56},{"w":7693,"f":0.53},{"w":7697,"f":0.62},{"w":7702,"f":0.49},{"w":7707,"f":0.81},{"w":7712,"f":1.43},{"w":7716,"f":0.83},{"w":7720,"f":0.68},{"w":7724,"f":0.81},{"w":7728,"f":0.53},
{"w":7733,"f":0.59},{"w":7738,"f":0.70},{"w":7744,"f":0.51},{"w":7748,"f":1.71},{"w":7753,"f":0.62},{"w":7757,"f":0.98},{"w":7761,"f":0.49},{"w":7767,"f":0.71},{"w":7772,"f":0.62},{"w":7776,"f":0.82},
{"w":7781,"f":0.53},{"w":7785,"f":0.70},{"w":7790,"f":1.41},{"w":7794,"f":0.53},{"w":7802,"f":0.55},{"w":7805,"f":0.94},{"w":7809,"f":0.62},{"w":7813,"f":0.53},{"w":7818,"f":1.61},{"w":7823,"f":0.55},
{"w":7831,"f":0.53},{"w":7836,"f":0.91},{"w":7841,"f":0.57},{"w":7845,"f":0.55},{"w":7849,"f":1.71},{"w":7853,"f":0.62},{"w":7856,"f":1.06},{"w":7859,"f":0.91},{"w":7862,"f":0.64},{"w":7866,"f":1.14},
{"w":7870,"f":0.62},{"w":7875,"f":0.98},{"w":7880,"f":0.53},{"w":7883,"f":1.13},{"w":7887,"f":0.62},{"w":7893,"f":0.53},{"w":7898,"f":0.70},{"w":7903,"f":0.53},{"w":7907,"f":0.62},{"w":7910,"f":2.4},
{"w":7914,"f":0.62},{"w":7916,"f":1.18},{"w":7920,"f":0.57},{"w":7924,"f":0.55},{"w":7929,"f":1.01},{"w":7933,"f":0.55},{"w":7939,"f":0.53},{"w":7945,"f":0.90},{"w":7948,"f":0.53},{"w":7955,"f":0.53},
{"w":7960,"f":1.68},{"w":7965,"f":0.62},{"w":7970,"f":0.53},{"w":7974,"f":1.05},{"w":7978,"f":0.53},{"w":7984,"f":0.62},{"w":7989,"f":1.76},{"w":7994,"f":0.54},{"w":8000,"f":0.53},{"w":8007,"f":0.79},
{"w":8010,"f":0.92},{"w":8014,"f":0.53},{"w":8021,"f":0.57},{"w":8028,"f":0.53},{"w":8033,"f":0.51},{"w":8041,"f":0.51},{"w":8046,"f":0.79},{"w":8049,"f":0.57},{"w":8054,"f":0.53},{"w":8058,"f":1.01},
{"w":8062,"f":0.55},{"w":8067,"f":0.51},{"w":8072,"f":0.53},{"w":8075,"f":0.55},{"w":8079,"f":0.52},{"w":8084,"f":0.61},{"w":8089,"f":0.66},{"w":8093,"f":0.53},{"w":8098,"f":0.79},{"w":8102,"f":0.53},
{"w":8111,"f":0.51},{"w":8121,"f":0.52},{"w":8130,"f":0.55},{"w":8134,"f":0.63},{"w":8139,"f":0.55},{"w":8143,"f":0.66},{"w":8147,"f":0.54},{"w":8154,"f":0.52},{"w":8160,"f":0.54},{"w":8164,"f":0.53},
{"w":8170,"f":0.52},{"w":8177,"f":0.53},{"w":8182,"f":0.57},{"w":8186,"f":0.55},{"w":8191,"f":0.57},{"w":8196,"f":0.53},{"w":8206,"f":0.53},{"w":8216,"f":0.55},{"w":8226,"f":0.58},{"w":8235,"f":0.57},
{"w":8245,"f":0.54},{"w":8255,"f":0.53},{"w":8265,"f":0.53},{"w":8269,"f":0.85},{"w":8273,"f":1.35},{"w":8277,"f":1.33},{"w":8280,"f":1.13},{"w":8283,"f":1.51},{"w":8287,"f":1.21},{"w":8291,"f":0.70},
{"w":8294,"f":2.4},{"w":8298,"f":0.74},{"w":8302,"f":0.62},{"w":8306,"f":0.97},{"w":8310,"f":0.57},{"w":8315,"f":0.53},{"w":8323,"f":0.54},{"w":8330,"f":0.51},{"w":8334,"f":2.4},{"w":8338,"f":2.4},
{"w":8342,"f":1.00},{"w":8347,"f":1.39},{"w":8351,"f":0.62},{"w":8356,"f":0.93},{"w":8360,"f":0.62},{"w":8364,"f":0.53},{"w":8369,"f":0.70},{"w":8373,"f":1.21},{"w":8377,"f":0.62},{"w":8381,"f":0.53},
{"w":8387,"f":0.55},{"w":8390,"f":2.4},{"w":8394,"f":0.62},{"w":8398,"f":0.57},{"w":8403,"f":0.53},{"w":8408,"f":1.28},{"w":8413,"f":0.62},{"w":8418,"f":0.53},{"w":8423,"f":2.4},{"w":8426,"f":2.4},
{"w":8430,"f":0.70},{"w":8434,"f":0.53},{"w":8441,"f":0.59},{"w":8446,"f":1.22},{"w":8450,"f":0.64},{"w":8455,"f":0.53},{"w":8458,"f":2.4},{"w":8462,"f":2.4},{"w":8467,"f":0.57},{"w":8473,"f":0.53},
{"w":8480,"f":0.57},{"w":8484,"f":0.98},{"w":8488,"f":0.64},{"w":8493,"f":0.53},{"w":8499,"f":1.49},{"w":8504,"f":0.62},{"w":8509,"f":0.53},{"w":8516,"f":0.55},{"w":8521,"f":0.53},{"w":8529,"f":0.55},
{"w":8533,"f":0.81},{"w":8537,"f":0.53},{"w":8542,"f":1.01},{"w":8546,"f":0.57},{"w":8552,"f":0.53},{"w":8561,"f":0.52},{"w":8571,"f":0.55},{"w":8578,"f":0.53},{"w":8582,"f":0.69},{"w":8586,"f":0.57},
{"w":8591,"f":0.74},{"w":8594,"f":0.57},{"w":8600,"f":0.64},{"w":8607,"f":0.79},{"w":8613,"f":1.07},{"w":8619,"f":1.23},{"w":8623,"f":1.27},{"w":8628,"f":1.21},{"w":8633,"f":0.96},{"w":8638,"f":0.81},
{"w":8643,"f":1.15},{"w":8647,"f":1.25},{"w":8651,"f":1.35},{"w":8656,"f":1.37},{"w":8659,"f":1.32},{"w":8664,"f":1.19},{"w":8671,"f":0.96},{"w":8677,"f":0.87},{"w":8683,"f":0.72},{"w":8686,"f":0.65},
{"w":8692,"f":0.66},{"w":8697,"f":0.62},{"w":8701,"f":0.63},{"w":8706,"f":0.55},{"w":8711,"f":0.53},{"w":8718,"f":0.55},{"w":8723,"f":0.53},{"w":8728,"f":0.55},{"w":8731,"f":0.57},{"w":8737,"f":0.55},
{"w":8744,"f":0.56},{"w":8749,"f":1.17},{"w":8752,"f":2.4},{"w":8756,"f":1.70},{"w":8758,"f":2.4},{"w":8762,"f":0.89},{"w":8766,"f":1.38},{"w":8770,"f":1.68},{"w":8773,"f":2.4},{"w":8777,"f":0.91},
{"w":8781,"f":0.62},{"w":8784,"f":1.21},{"w":8788,"f":0.62},{"w":8793,"f":0.55},{"w":8797,"f":0.55},{"w":8803,"f":0.65},{"w":8808,"f":0.55},{"w":8812,"f":0.57},{"w":8816,"f":2.4},{"w":8820,"f":1.00},
{"w":8822,"f":2.4},{"w":8826,"f":1.70},{"w":8830,"f":2.4},{"w":8834,"f":1.10},{"w":8839,"f":0.62},{"w":8843,"f":1.10},{"w":8847,"f":0.62},{"w":8852,"f":0.55},{"w":8856,"f":0.57},{"w":8861,"f":1.59},
{"w":8865,"f":0.62},{"w":8869,"f":0.57},{"w":8874,"f":0.62},{"w":8878,"f":2.4},{"w":8882,"f":0.85},{"w":8886,"f":0.62},{"w":8891,"f":0.70},{"w":8897,"f":2.4},{"w":8901,"f":0.74},{"w":8904,"f":0.62},
{"w":8908,"f":1.17},{"w":8912,"f":2.4},{"w":8916,"f":0.85},{"w":8920,"f":0.70},{"w":8927,"f":0.66},{"w":8932,"f":0.85},{"w":8936,"f":2.4},{"w":8941,"f":0.74},{"w":8946,"f":0.70},{"w":8950,"f":2.4},
{"w":8954,"f":2.4},{"w":8958,"f":0.70},{"w":8963,"f":0.64},{"w":8967,"f":0.69},{"w":8972,"f":0.62},{"w":8976,"f":0.83},{"w":8980,"f":1.70},{"w":8984,"f":0.81},{"w":8989,"f":0.66},{"w":8993,"f":2.4},
{"w":8996,"f":1.55},{"w":9000,"f":0.68},{"w":9005,"f":0.61},{"w":9010,"f":0.62},{"w":9015,"f":0.65},{"w":9020,"f":0.63},{"w":9024,"f":0.65},{"w":9030,"f":1.06},{"w":9033,"f":0.79},{"w":9037,"f":0.64},
{"w":9043,"f":1.37},{"w":9047,"f":0.74},{"w":9052,"f":0.63},{"w":9057,"f":0.65},{"w":9062,"f":0.68},{"w":9067,"f":0.62},{"w":9073,"f":0.61},{"w":9080,"f":0.64},{"w":9085,"f":0.90},{"w":9090,"f":0.68},
{"w":9095,"f":1.03},{"w":9099,"f":0.70},{"w":9106,"f":0.61},{"w":9112,"f":0.61},{"w":9122,"f":0.62},{"w":9132,"f":0.62},{"w":9138,"f":0.70},{"w":9143,"f":0.87},{"w":9148,"f":0.73},{"w":9153,"f":0.92},
{"w":9159,"f":0.65},{"w":9168,"f":0.64},{"w":9178,"f":0.64},{"w":9187,"f":0.63},{"w":9197,"f":0.64},{"w":9204,"f":0.66},{"w":9208,"f":0.82},{"w":9213,"f":0.76},{"w":9219,"f":0.87},{"w":9224,"f":0.67},
{"w":9230,"f":0.65},{"w":9236,"f":0.66},{"w":9241,"f":0.74},{"w":9247,"f":0.68},{"w":9251,"f":0.67},{"w":9256,"f":0.70},{"w":9261,"f":0.66},{"w":9267,"f":0.66},{"w":9272,"f":0.69},{"w":9277,"f":0.85},
{"w":9281,"f":0.81},{"w":9285,"f":0.89},{"w":9290,"f":0.81},{"w":9296,"f":0.77},{"w":9302,"f":0.77}
    ]
  },
  "layer": [
    {
      "data": {"values": [{}]},
      "mark": {"type": "rule", "color": "#0000ff", "strokeWidth": 6},
      "encoding": {
        "y": {"datum": 0, "type": "quantitative"}
      }
    },
    {
      "data": {"name": "model"},
      "mark": {"type": "line", "color": "#008000", "strokeWidth": 2, "clip": true},
      "encoding": {
        "x": {"field": "w", "type": "quantitative",
              "scale": {"domain": [4750, 9300], "nice": false, "zero": false},
              "axis": {"values": [5000, 6000, 7000, 8000, 9000], "format": "d", "title": "Wavelength",
                       "labelFontSize": 27, "titleFontSize": 33, "titleBaseline": "alphabetic", "titleY": 86,
                       "labelPadding": 13}},
        "y": {"field": "f", "type": "quantitative",
              "scale": {"domain": [-1.48, 1.77], "nice": false, "zero": false},
              "axis": {"values": [-1, -0.5, 0, 0.5, 1, 1.5], "format": ".1f", "title": "10⁻¹⁸ erg s⁻¹cm⁻²Å⁻¹",
                       "labelFontSize": 34, "titleFontSize": 48, "titleAngle": -90, "titleBaseline": "alphabetic",
                       "titleX": -148, "labelPadding": 16}}
      }
    },
    {
      "data": {"name": "flux"},
      "mark": {"type": "line", "color": "black", "strokeWidth": 5, "strokeJoin": "round", "clip": true},
      "encoding": {
        "x": {"field": "w", "type": "quantitative"},
        "y": {"field": "f", "type": "quantitative"}
      }
    }
  ]
}
